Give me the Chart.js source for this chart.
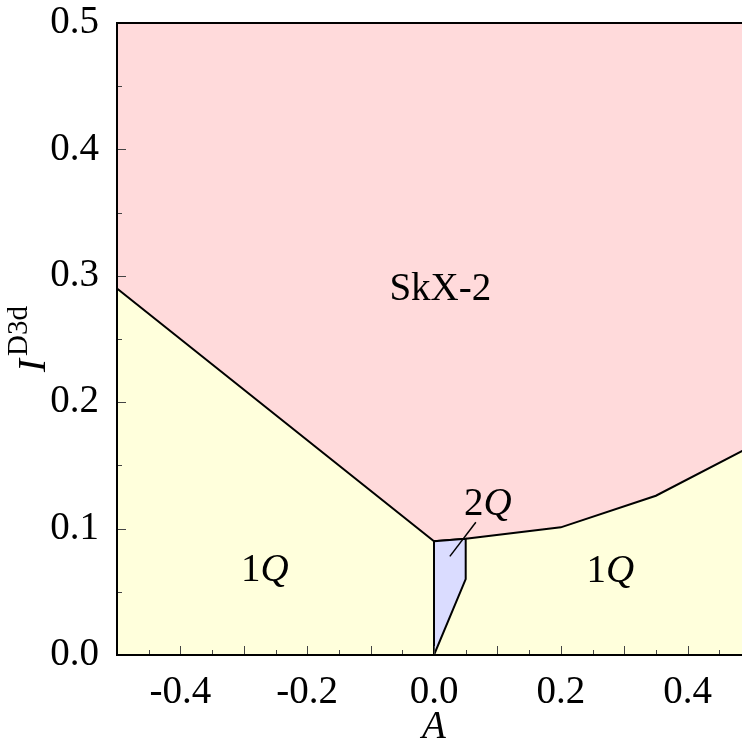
<!DOCTYPE html>
<html>
<head>
<meta charset="utf-8">
<script src="https://cdn.jsdelivr.net/npm/chart.js@4/dist/chart.umd.min.js"></script>
<style>
  html, body { margin: 0; padding: 0; background: #fff; overflow: hidden; }
  #wrap { width: 760px; height: 742px; }
</style>
</head>
<body>
<div id="wrap"><canvas id="phase" width="760" height="742"></canvas></div>
<script>
// phase boundary between SkX-2 (above) and 1Q / 2Q (below)
var boundaryA = [-0.5, 0.0, 0.05, 0.2, 0.35, 0.5];
var boundaryI = [0.29, 0.09, 0.092, 0.101, 0.126, 0.165];

// 2Q pocket (closed polygon)
var pocketA = [0.0, 0.0, 0.05, 0.05, 0.0];
var pocketI = [0.0, 0.09, 0.092, 0.06, 0.0];

// tick labels
var xTicks = [-0.4, -0.2, 0.0, 0.2, 0.4];
var yTicks = [0.0, 0.1, 0.2, 0.3, 0.4, 0.5];

// region labels: [text runs, A, I]
var regionLabels = [
  [[['SkX-2', false]], 0.01, 0.289],
  [[['1', false], ['Q', true]], -0.267, 0.067],
  [[['1', false], ['Q', true]], 0.278, 0.066],
  [[['2', false], ['Q', true]], 0.085, 0.119]
];
var leaderA = [0.066, 0.025];
var leaderI = [0.105, 0.078];

var SERIF = '"Liberation Serif", "DejaVu Serif", serif';
var FS = 39;

function pts(xs, ys) {
  return xs.map(function (x, i) { return { x: x, y: ys[i] }; });
}

function drawRuns(ctx, runs, cx, cy, size) {
  var total = 0;
  runs.forEach(function (r) {
    ctx.font = (r[1] ? 'italic ' : '') + size + 'px ' + SERIF;
    total += ctx.measureText(r[0]).width;
  });
  var x = cx - total / 2;
  ctx.textBaseline = 'middle';
  ctx.textAlign = 'left';
  runs.forEach(function (r) {
    ctx.font = (r[1] ? 'italic ' : '') + size + 'px ' + SERIF;
    ctx.fillText(r[0], x, cy);
    x += ctx.measureText(r[0]).width;
  });
}

var decorPlugin = {
  id: 'decor',
  afterDatasetsDraw: function (chart) {
    var ctx = chart.ctx, xs = chart.scales.x, ys = chart.scales.y, a = chart.chartArea;
    ctx.save();

    // inward ticks, major every 0.1, minor every 0.05
    ctx.strokeStyle = '#444';
    ctx.lineWidth = 1;
    for (var k = -10; k <= 10; k++) {
      var v = k * 0.05;
      var len = (k % 2 === 0) ? 9 : 5;
      var px = Math.round(xs.getPixelForValue(v)) + 0.5;
      ctx.beginPath(); ctx.moveTo(px, a.bottom); ctx.lineTo(px, a.bottom - len); ctx.stroke();
    }
    for (var j = 0; j <= 10; j++) {
      var vy = j * 0.05;
      var leny = (j % 2 === 0) ? 9 : 5;
      var py = Math.round(ys.getPixelForValue(vy)) + 0.5;
      ctx.beginPath(); ctx.moveTo(a.left, py); ctx.lineTo(a.left + leny, py); ctx.stroke();
    }

    // frame
    ctx.strokeStyle = '#000';
    ctx.lineWidth = 2;
    ctx.strokeRect(a.left, a.top, a.right - a.left, a.bottom - a.top);

    // region labels
    ctx.fillStyle = '#000';
    regionLabels.forEach(function (l) {
      drawRuns(ctx, l[0], xs.getPixelForValue(l[1]), ys.getPixelForValue(l[2]), FS);
    });

    // leader line for 2Q
    ctx.lineWidth = 1.5;
    ctx.beginPath();
    ctx.moveTo(xs.getPixelForValue(leaderA[0]), ys.getPixelForValue(leaderI[0]));
    ctx.lineTo(xs.getPixelForValue(leaderA[1]), ys.getPixelForValue(leaderI[1]));
    ctx.stroke();

    // axis titles
    ctx.font = 'italic ' + FS + 'px ' + SERIF;
    ctx.textAlign = 'center';
    ctx.textBaseline = 'alphabetic';
    ctx.fillText('A', xs.getPixelForValue(0), 738);

    var cy = (a.top + a.bottom) / 2;
    ctx.translate(45, cy);
    ctx.rotate(-Math.PI / 2);
    ctx.font = 'italic ' + FS + 'px ' + SERIF;
    var wI = ctx.measureText('I').width;
    ctx.font = '29px ' + SERIF;
    var wS = ctx.measureText('D3d').width;
    var x0 = -(wI + 3 + wS) / 2;
    ctx.textAlign = 'left';
    ctx.font = 'italic ' + FS + 'px ' + SERIF;
    ctx.fillText('I', x0, 0);
    ctx.font = '29px ' + SERIF;
    ctx.fillText('D3d', x0 + wI + 3, -18);
    ctx.restore();
  }
};

new Chart(document.getElementById('phase'), {
  type: 'scatter',
  data: {
    datasets: [
      {
        label: 'SkX-2',
        data: pts(boundaryA, boundaryI),
        showLine: true,
        fill: 'end',
        backgroundColor: '#ffdadb',
        borderWidth: 0,
        pointRadius: 0,
        order: 3
      },
      {
        label: '1Q',
        data: pts(boundaryA, boundaryI),
        showLine: true,
        fill: 'origin',
        backgroundColor: '#ffffdc',
        borderColor: '#000',
        borderWidth: 2,
        pointRadius: 0,
        order: 2
      },
      {
        label: '2Q',
        data: pts(pocketA, pocketI),
        showLine: true,
        fill: 'shape',
        backgroundColor: '#dadcff',
        borderColor: '#000',
        borderWidth: 2,
        pointRadius: 0,
        order: 1
      }
    ]
  },
  options: {
    responsive: false,
    animation: false,
    devicePixelRatio: 1,
    layout: { padding: { left: 0, top: 23, right: 9, bottom: 0 } },
    plugins: {
      legend: { display: false },
      tooltip: { enabled: false }
    },
    scales: {
      x: {
        type: 'linear',
        min: -0.5,
        max: 0.5,
        afterBuildTicks: function (s) { s.ticks = xTicks.map(function (v) { return { value: v }; }); },
        afterFit: function (s) { s.height = 87; s.paddingLeft = 0; s.paddingRight = 0; },
        ticks: {
          font: { family: SERIF, size: FS },
          color: '#000',
          padding: 6,
          maxRotation: 0,
          callback: function (v) { return v.toFixed(1); }
        },
        grid: { display: false },
        border: { display: false }
      },
      y: {
        type: 'linear',
        min: 0,
        max: 0.5,
        afterBuildTicks: function (s) { s.ticks = yTicks.map(function (v) { return { value: v }; }); },
        afterFit: function (s) { s.width = 117; s.paddingTop = 0; s.paddingBottom = 0; },
        ticks: {
          font: { family: SERIF, size: FS },
          color: '#000',
          padding: 10,
          callback: function (v) { return v.toFixed(1); }
        },
        grid: { display: false },
        border: { display: false }
      }
    }
  },
  plugins: [decorPlugin]
});
</script>
</body>
</html>
